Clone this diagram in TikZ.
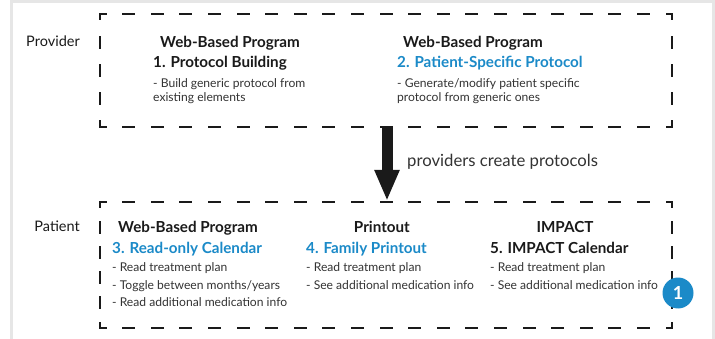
\documentclass[tikz,border=0pt]{standalone}
\usepackage{fontspec}
\setmainfont{Lato}
\usetikzlibrary{arrows.meta}
\definecolor{hblue}{HTML}{1B8AC8}
\definecolor{titlec}{HTML}{1A1A1A}
\definecolor{bodyc}{HTML}{333333}
\definecolor{framec}{HTML}{E6E6E6}
\begin{document}
\begin{tikzpicture}[x=1pt,y=-1pt,
  title/.style={font=\bfseries\fontsize{15.2}{17}\selectfont, text=titlec, inner sep=0, anchor=base west},
  bluetitle/.style={title, text=hblue},
  body/.style={font=\fontsize{12.1}{14}\selectfont, text=bodyc, inner sep=0, anchor=base west},
  rowlabel/.style={font=\fontsize{14.5}{16}\selectfont, text=titlec, inner sep=0, anchor=base east},
  boxline/.style={line width=2.7pt, line cap=rect, draw=titlec},
  hside/.style={boxline, dash pattern=on 10.3pt off 18.3pt, dash phase=5.15pt},
  vsideA/.style={boxline, dash pattern=on 10.3pt off 17.95pt, dash phase=5.15pt},
  vsideB/.style={boxline, dash pattern=on 10.3pt off 14.9pt, dash phase=5.15pt},
  bigarrow/.style={line width=11pt, draw=titlec, -{Triangle[width=23pt,length=31pt]}},
  badge/.style={circle, fill=hblue, text=white, minimum size=31pt, inner sep=0, font=\bfseries\fontsize{18}{20}\selectfont}
]
\useasboundingbox (0,0) rectangle (715,339);
\fill[white] (0,0) rectangle (715,339);
\draw[framec, line width=3pt] (11.5,1.5) rectangle (713.5,360);

% provider box
\coordinate (p1) at (100,14);
\coordinate (p2) at (672,14);
\coordinate (p3) at (672,127);
\coordinate (p4) at (100,127);
\draw[hside] (p1) -- (p2);
\draw[hside] (p4) -- (p3);
\draw[vsideA] (p1) -- (p4);
\draw[vsideA] (p2) -- (p3);

% patient box
\coordinate (q1) at (100,202);
\coordinate (q2) at (672,202);
\coordinate (q3) at (672,328);
\coordinate (q4) at (100,328);
\draw[hside] (q1) -- (q2);
\draw[hside] (q4) -- (q3);
\draw[vsideB] (q1) -- (q4);
\draw[vsideB] (q2) -- (q3);

% row labels
\node[rowlabel] (provider) at (80,47) {Provider};
\node[rowlabel] (patient) at (80,232) {Patient};

% provider column 1
\node[title] (t1a) at (160,48) {Web-Based Program};
\node[title] (t1b) at (153,68) {1. Protocol Building};
\node[body] (b1a) at (153,88) {- Build generic protocol from};
\node[body] (b1b) at (153,102) {existing elements};

% provider column 2
\node[title] (t2a) at (403,48) {Web-Based Program};
\node[bluetitle] (t2b) at (397,68) {2. Patient-Specific Protocol};
\node[body] (b2a) at (397,88) {- Generate/modify patient specific};
\node[body] (b2b) at (397,102) {protocol from generic ones};

% arrow
\coordinate (arrowstart) at (387,127);
\coordinate (arrowend) at (387,201);
\draw[bigarrow] (arrowstart) -- (arrowend);
\node[font=\fontsize{16.7}{18}\selectfont, text=bodyc, inner sep=0, anchor=base west] (arrowlabel) at (407,166.5) {providers create protocols};

% patient column 1
\node[title] (t3a) at (118,232.7) {Web-Based Program};
\node[bluetitle] (t3b) at (112,253.3) {3. Read-only Calendar};
\node[body] (b3a) at (112,271.7) {- Read treatment plan};
\node[body] (b3b) at (112,289.3) {- Toggle between months/years};
\node[body] (b3c) at (112,306.7) {- Read additional medication info};

% patient column 2
\node[title, anchor=base east] (t4a) at (410,232.7) {Printout};
\node[bluetitle] (t4b) at (306,253.3) {4. Family Printout};
\node[body] (b4a) at (306,271.7) {- Read treatment plan};
\node[body] (b4b) at (306,289.3) {- See additional medication info};

% patient column 3
\node[title, anchor=base] (t5a) at (565,232.7) {IMPACT};
\node[title] (t5b) at (490,253.3) {5. IMPACT Calendar};
\node[body] (b5a) at (490,271.7) {- Read treatment plan};
\node[body] (b5b) at (490,289.3) {- See additional medication info};

\node[badge] (one) at (678,293) {1};
\end{tikzpicture}
\end{document}
